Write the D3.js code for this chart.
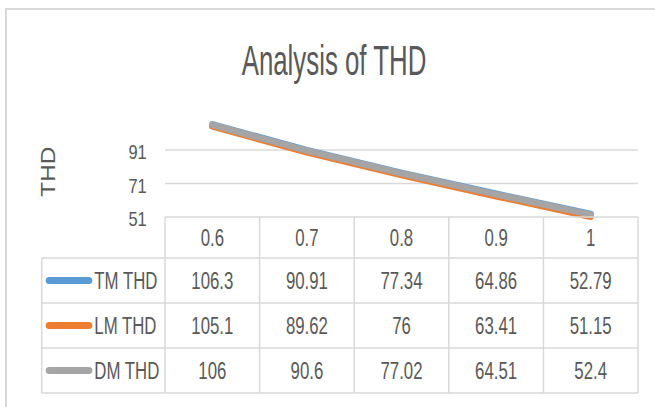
<!DOCTYPE html>
<html>
<head>
<meta charset="utf-8">
<script src="https://cdn.jsdelivr.net/npm/d3@7/dist/d3.min.js"></script>
<style>
html,body{margin:0;padding:0;background:#fff;}
svg{display:block;}
</style>
</head>
<body>
<script>
const categories = ["0.6","0.7","0.8","0.9","1"];
const seriesNames = ["TM THD","LM THD","DM THD"];
const tmTHD = [106.3, 90.91, 77.34, 64.86, 52.79];
const lmTHD = [105.1, 89.62, 76, 63.41, 51.15];
const dmTHD = [106, 90.6, 77.02, 64.51, 52.4];
const yTicks = [51, 71, 91];
const titleText = "Analysis of THD";
const yTitle = "THD";

const colors = ["#5b9bd5", "#ed7d31", "#a5a5a5"];
const seriesValues = [tmTHD, lmTHD, dmTHD];
const series = seriesNames.map((n, i) => ({name: n, values: seriesValues[i], color: colors[i]}));

const W = 655, H = 407;
const svg = d3.select("body").append("svg").attr("width", W).attr("height", H);
const FONT = "'Liberation Sans', Arial, sans-serif";
const TXT = "#595959";
const GRID = "#d9d9d9";

// chart border
svg.append("path").attr("d", `M6,${H} L6,9 L${W},9`).attr("fill","none")
  .attr("stroke", GRID).attr("stroke-width", 2);

function txt(parent, x, y, str, size, sx, anchor, rotate) {
  const g = parent.append("g").attr("transform",
    `translate(${x},${y})` + (rotate ? ` rotate(${rotate})` : "") + ` scale(${sx},1)`);
  g.append("text").attr("x",0).attr("y",0).attr("text-anchor", anchor)
    .attr("font-family", FONT).attr("font-size", size).attr("fill", TXT).text(str);
  return g;
}

// title
txt(svg, 334, 75, titleText, 42, 0.615, "middle");

// scales
const x = d3.scaleBand().domain(categories).range([165, 638]);
const y = d3.scaleLinear().domain([51, 111]).range([217, 116.5]);

// gridlines
svg.append("g").selectAll("line").data(yTicks.filter(t => t !== y.domain()[0])).join("line")
  .attr("x1", x.range()[0]).attr("x2", x.range()[1])
  .attr("y1", d => y(d)).attr("y2", d => y(d))
  .attr("stroke", GRID).attr("stroke-width", 1.5);

// y tick labels
yTicks.forEach(t => txt(svg, 146.7, y(t) + 9, String(t), 20, 0.82, "end"));

// y axis title
txt(svg, 55, 171.7, yTitle, 21, 1.16, "middle", -90);

// lines
const line = d3.line().x((d, i) => x(categories[i]) + x.bandwidth() / 2).y(d => y(d));
series.forEach(s => {
  svg.append("path").datum(s.values).attr("d", line).attr("fill", "none")
    .attr("stroke", s.color).attr("stroke-width", 6.5)
    .attr("stroke-linecap", "round").attr("stroke-linejoin", "round");
});

// data table
const rowY = d3.scaleBand().domain(seriesNames).range([258, 393]);
const headTop = y(y.domain()[0]);
const tableLeft = 41.7;
const tg = svg.append("g");
// horizontal lines
tg.append("line").attr("x1", x.range()[0]).attr("x2", x.range()[1])
  .attr("y1", headTop).attr("y2", headTop).attr("stroke", GRID).attr("stroke-width", 1.5);
const hLines = seriesNames.map(n => rowY(n)).concat([rowY.range()[1]]);
tg.selectAll("line.h").data(hLines).join("line").attr("class","h")
  .attr("x1", tableLeft).attr("x2", x.range()[1])
  .attr("y1", d => d).attr("y2", d => d).attr("stroke", GRID).attr("stroke-width", 1.5);
// vertical lines
const vLines = categories.map(c => x(c)).concat([x.range()[1]]);
tg.selectAll("line.v").data(vLines).join("line").attr("class","v")
  .attr("x1", d => d).attr("x2", d => d)
  .attr("y1", headTop).attr("y2", rowY.range()[1]).attr("stroke", GRID).attr("stroke-width", 1.5);
tg.append("line").attr("x1", tableLeft).attr("x2", tableLeft)
  .attr("y1", rowY.range()[0]).attr("y2", rowY.range()[1]).attr("stroke", GRID).attr("stroke-width", 1.5);

// header labels
categories.forEach(c => txt(svg, x(c) + x.bandwidth() / 2, (headTop + rowY.range()[0]) / 2 + 8.5, c, 24, 0.70, "middle"));

// rows
series.forEach(s => {
  const cy = rowY(s.name) + rowY.bandwidth() / 2;
  svg.append("line").attr("x1", 49.2).attr("x2", 88.8).attr("y1", cy).attr("y2", cy)
    .attr("stroke", s.color).attr("stroke-width", 7).attr("stroke-linecap", "round");
  txt(svg, 94.3, cy + 8.5, s.name, 24, 0.70, "start");
  s.values.forEach((v, i) => {
    txt(svg, x(categories[i]) + x.bandwidth() / 2, cy + 8.5, String(v), 24, 0.70, "middle");
  });
});
</script>
</body>
</html>
